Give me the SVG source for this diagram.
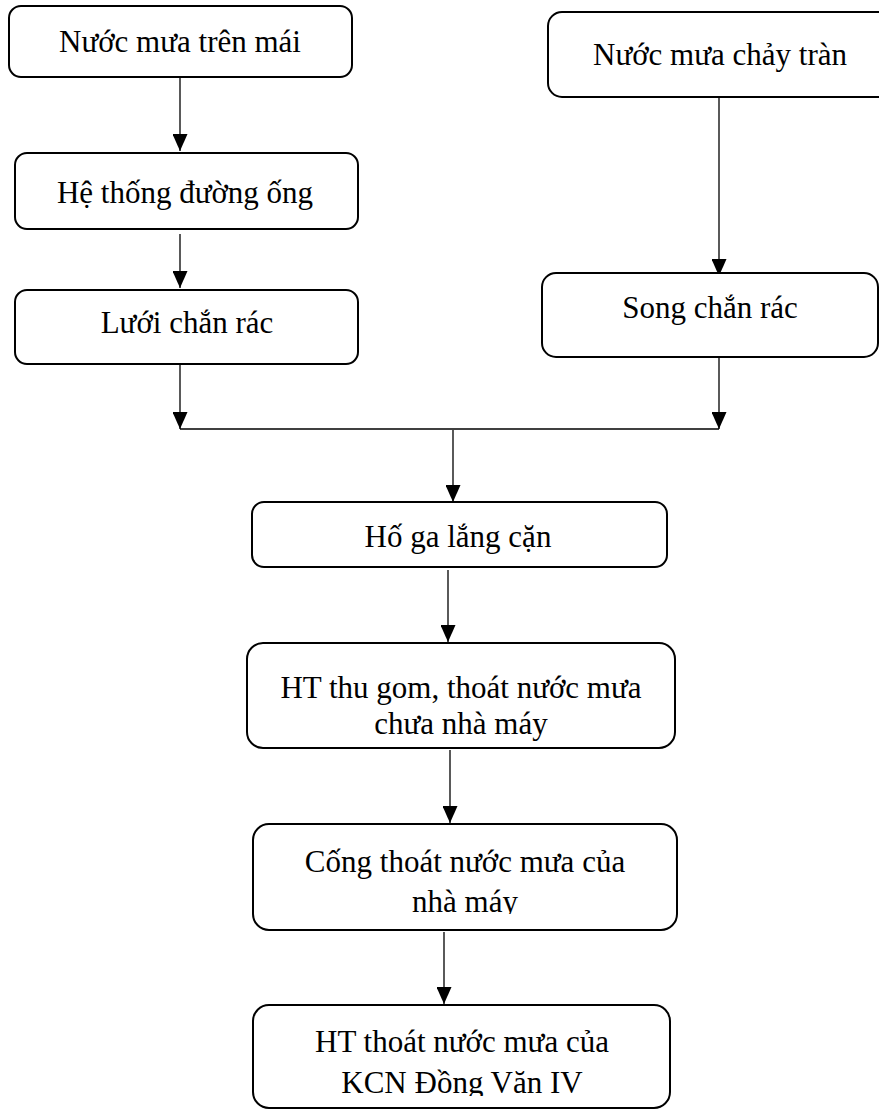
<svg xmlns="http://www.w3.org/2000/svg" width="879" height="1109" viewBox="0 0 879 1109">
<style>
.box{fill:#fff;stroke:#000;stroke-width:2}
.t{font-family:"Liberation Serif","Times New Roman",serif;font-size:31px;fill:#000;text-anchor:middle}
.c{stroke:#000;stroke-width:1.3;fill:none;marker-end:url(#ah)}
.l{stroke:#000;stroke-width:1.3;fill:none}
</style>
<defs>
<marker id="ah" markerUnits="userSpaceOnUse" viewBox="0 0 17 15" markerWidth="17" markerHeight="15" refX="17" refY="7.5" orient="auto">
<path d="M0,0 L17,7.5 L0,15 z" fill="#000"/>
</marker>
<clipPath id="clip1"><rect x="253" y="824" width="424" height="90"/></clipPath>
<clipPath id="clip2"><rect x="253" y="1005" width="417" height="91"/></clipPath>
</defs>
<rect width="879" height="1109" fill="#fff"/>
<g id="connectors">
<line class="c" x1="180" y1="78" x2="180" y2="151"/>
<line class="c" x1="180" y1="234" x2="180" y2="288"/>
<line class="c" x1="180" y1="365" x2="180" y2="429"/>
<line class="c" x1="719" y1="97" x2="719" y2="276"/>
<line class="c" x1="719" y1="358" x2="719" y2="429"/>
<line class="l" x1="180" y1="429" x2="719" y2="429"/>
<line class="c" x1="453" y1="430" x2="453" y2="502"/>
<line class="c" x1="448" y1="570" x2="448" y2="642"/>
<line class="c" x1="450" y1="750" x2="450" y2="823"/>
<line class="c" x1="444" y1="932" x2="444" y2="1004"/>
</g>
<g id="n1">
<rect class="box" x="9" y="6" width="343" height="71" rx="12"/>
<text class="t" x="180" y="52">Nước mưa trên mái</text>
</g>
<g id="n2">
<rect class="box" x="15" y="153" width="343" height="76" rx="12"/>
<text class="t" x="185" y="203">Hệ thống đường ống</text>
</g>
<g id="n3">
<rect class="box" x="15" y="290" width="343" height="74" rx="12"/>
<text class="t" x="187" y="333">Lưới chắn rác</text>
</g>
<g id="n4">
<rect class="box" x="548" y="12" width="345" height="85" rx="14"/>
<text class="t" x="720" y="65">Nước mưa chảy tràn</text>
</g>
<g id="n5">
<rect class="box" x="542" y="273" width="336" height="84" rx="14"/>
<text class="t" x="710" y="318">Song chắn rác</text>
</g>
<g id="n6">
<rect class="box" x="252" y="502" width="415" height="65" rx="12"/>
<text class="t" x="458" y="547">Hố ga lắng cặn</text>
</g>
<g id="n7">
<rect class="box" x="247" y="643" width="428" height="105" rx="16"/>
<text class="t" x="461" y="698">HT thu gom, thoát nước mưa</text>
<text class="t" x="461" y="734">chưa nhà máy</text>
</g>
<g id="n8">
<rect class="box" x="253" y="824" width="424" height="106" rx="16"/>
<g clip-path="url(#clip1)">
<text class="t" x="465" y="872">Cống thoát nước mưa của</text>
<text class="t" x="465" y="912">nhà máy</text>
</g>
</g>
<g id="n9">
<rect class="box" x="253" y="1005" width="417" height="103" rx="16"/>
<g clip-path="url(#clip2)">
<text class="t" x="462" y="1052">HT thoát nước mưa của</text>
<text class="t" x="462" y="1093">KCN Đồng Văn IV</text>
</g>
</g>
</svg>
